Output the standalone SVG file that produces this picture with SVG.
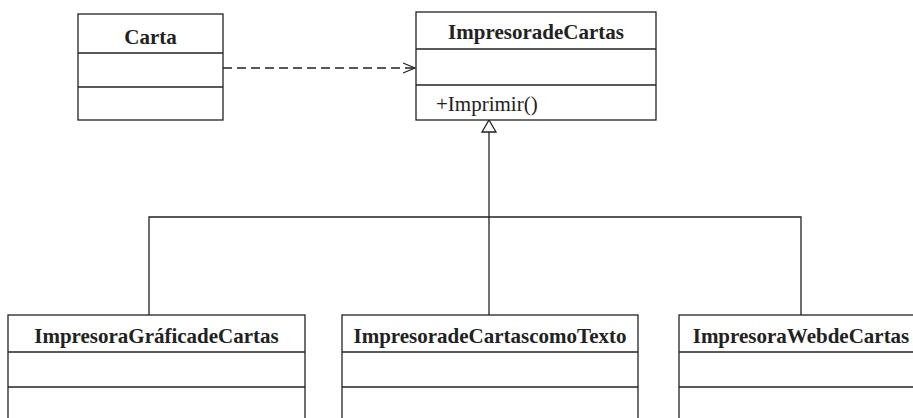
<svg xmlns="http://www.w3.org/2000/svg" width="913" height="418" viewBox="0 0 913 418">
<defs>
<style>
.box{fill:#fff;stroke:#222;stroke-width:1.3}
.ln{stroke:#222;stroke-width:1.3;fill:none}
.t{font-family:"Liberation Serif","Times New Roman",serif;font-weight:bold;font-size:21px;fill:#222;text-anchor:middle}
.m{font-family:"Liberation Serif","Times New Roman",serif;font-size:21px;fill:#222}
</style>
<marker id="open" markerWidth="14" markerHeight="12" refX="13" refY="6" orient="auto" markerUnits="userSpaceOnUse">
<path d="M1,1 L13,6 L1,11" fill="none" stroke="#222" stroke-width="1.3"/>
</marker>
</defs>
<rect width="913" height="418" fill="#fff"/>
<g id="connectors">
<line class="ln" x1="223" y1="68" x2="415" y2="68" stroke-dasharray="9,5" marker-end="url(#open)"/>
<polyline class="ln" points="149,315 149,217 801,217 801,315"/>
<line class="ln" x1="489" y1="132" x2="489" y2="315"/>
<polygon points="489,120 482,132 496,132" fill="#fff" stroke="#222" stroke-width="1.3"/>
</g>
<g id="Carta">
<rect class="box" x="78" y="14" width="145" height="106"/>
<line class="ln" x1="78" y1="53" x2="223" y2="53"/>
<line class="ln" x1="78" y1="87" x2="223" y2="87" stroke-width="2"/>
<text class="t" x="150.5" y="44">Carta</text>
</g>
<g id="ImpresoradeCartas">
<rect class="box" x="416" y="12" width="240" height="108"/>
<line class="ln" x1="416" y1="49" x2="656" y2="49"/>
<line class="ln" x1="416" y1="85" x2="656" y2="85"/>
<text class="t" x="536" y="39">ImpresoradeCartas</text>
<text class="m" x="436" y="111">+Imprimir()</text>
</g>
<g id="ImpresoraGraficadeCartas">
<rect class="box" x="8" y="315" width="297" height="120"/>
<line class="ln" x1="8" y1="352" x2="305" y2="352"/>
<line class="ln" x1="8" y1="387" x2="305" y2="387"/>
<text class="t" x="156.5" y="343">ImpresoraGráficadeCartas</text>
</g>
<g id="ImpresoradeCartascomoTexto">
<rect class="box" x="342" y="315" width="296" height="120"/>
<line class="ln" x1="342" y1="352" x2="638" y2="352"/>
<line class="ln" x1="342" y1="387" x2="638" y2="387"/>
<text class="t" x="490" y="343">ImpresoradeCartascomoTexto</text>
</g>
<g id="ImpresoraWebdeCartas">
<rect class="box" x="679" y="315" width="260" height="120"/>
<line class="ln" x1="679" y1="352" x2="939" y2="352"/>
<line class="ln" x1="679" y1="387" x2="939" y2="387"/>
<text class="t" x="801" y="343">ImpresoraWebdeCartas</text>
</g>
</svg>
